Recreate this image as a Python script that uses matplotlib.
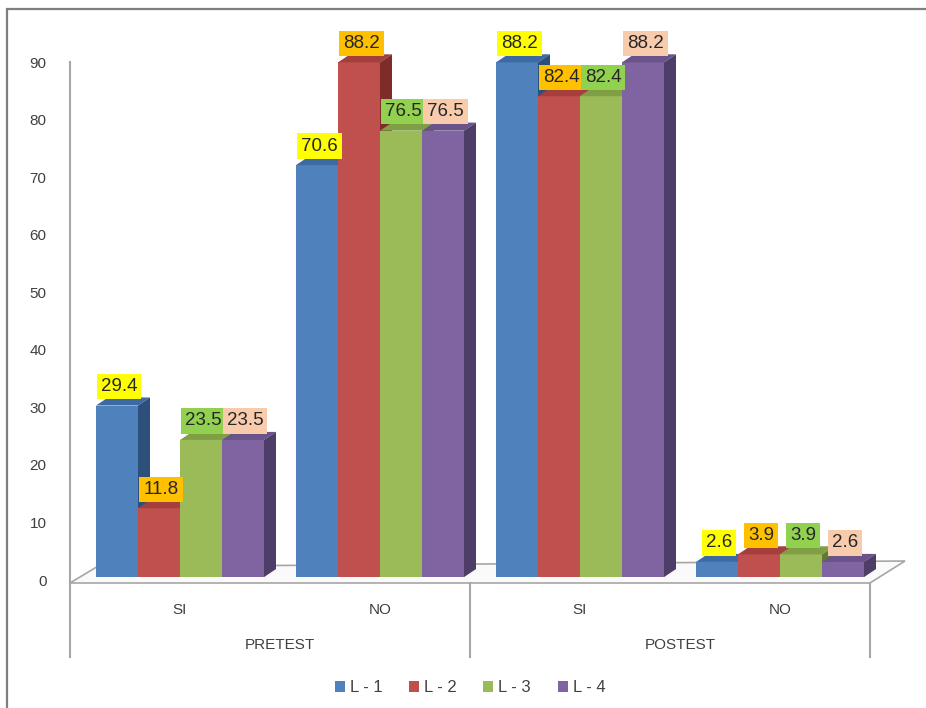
import matplotlib
matplotlib.use('Agg')
import matplotlib.pyplot as plt
from matplotlib.patches import Polygon, Rectangle, Patch

plt.rcParams['font.family'] = ['Liberation Sans', 'DejaVu Sans']

# data
categories = ['SI', 'NO', 'SI', 'NO']
groups = ['PRETEST', 'POSTEST']
series = ['L - 1', 'L - 2', 'L - 3', 'L - 4']
l1 = [29.4, 70.6, 88.2, 2.6]
l2 = [11.8, 88.2, 82.4, 3.9]
l3 = [23.5, 76.5, 82.4, 3.9]
l4 = [23.5, 76.5, 88.2, 2.6]
values = [l1, l2, l3, l4]

front = ['#4F81BD', '#C0504D', '#9BBB59', '#8064A2']
top = ['#3E6AA3', '#A53F3C', '#809F45', '#6A528A']
side = ['#2D4F7C', '#7E2C2A', '#627A33', '#4E3D66']
label_bg = ['#FFFF00', '#FFC000', '#92D050', '#F8CBAD']

W, H = 926, 708
fig = plt.figure(figsize=(W / 100, H / 100), dpi=100)
fig.patches.append(Rectangle((7 / W, -0.05), 1.1, 1 - 9 / H + 0.05,
                             transform=fig.transFigure, fill=False,
                             edgecolor='#7F7F7F', lw=1.6))

ax = fig.add_axes([70 / W, (H - 580) / H, 800 / W, 518 / H])
ax.set_xlim(-0.55, 3.45)
ax.set_ylim(0, 90)
for s in ax.spines.values():
    s.set_visible(False)
ax.set_xticks([])
ax.set_yticks(range(0, 91, 10))
ax.tick_params(axis='y', length=0, pad=17, labelsize=11, labelcolor='#404040')

gray = '#A6A6A6'
# floor
floor = Polygon([(-0.55, -0.52), (3.45, -0.52), (3.625, 3.3), (-0.415, 2.3)],
                closed=True, facecolor='#FAFAFA', edgecolor=gray, lw=1.2,
                clip_on=False, zorder=1)
ax.add_patch(floor)
# value axis line
ax.plot([-0.55, -0.55], [90, -0.52], color=gray, lw=1.5, clip_on=False, zorder=2)
# category separators
for xs in [-0.55, 1.45, 3.45]:
    ax.plot([xs, xs], [-0.52, -13.4], color=gray, lw=1.5, clip_on=False, zorder=2)

# front of the bars sits a bit in front of the back wall (perspective)
base = 0.5
k = 1.014
bw = 0.21
dx, dy = 0.06, 1.4
offs = [-1.5 * bw, -0.5 * bw, 0.5 * bw, 1.5 * bw]
z = 3
for g in range(len(categories)):
    for i in range(len(series)):
        v = values[i][g]
        h = base + v * k
        L = g + offs[i] - bw / 2
        R = L + bw
        ax.bar(g + offs[i], v * k, bottom=base, width=bw, color=front[i],
               clip_on=False, zorder=z)
        ax.add_patch(Polygon([(L, h), (R, h), (R + dx, h + dy), (L + dx, h + dy)],
                             closed=True, facecolor=top[i], edgecolor='none',
                             clip_on=False, zorder=z))
        ax.add_patch(Polygon([(R, base), (R, h), (R + dx, h + dy), (R + dx, base + dy)],
                             closed=True, facecolor=side[i], edgecolor='none',
                             clip_on=False, zorder=z))
        z += 1

# data labels
for g in range(len(categories)):
    for i in range(len(series)):
        v = values[i][g]
        h = base + v * k
        ax.text(g + offs[i] + 0.01, h + 3.3, f'{v:.1f}', ha='center', va='center',
                fontsize=13.5, color='#262626', zorder=100 + g * 4 + i,
                bbox=dict(boxstyle='square,pad=0.22', facecolor=label_bg[i],
                          edgecolor='none'))

# category labels
for g, c in enumerate(categories):
    ax.text(g, -5.2, c, ha='center', va='center', fontsize=11, color='#404040')
for n, name in enumerate(groups):
    ax.text(0.5 + 2 * n, -11.3, name, ha='center', va='center', fontsize=11,
            color='#404040')

handles = [Patch(facecolor=front[i], edgecolor='none', label=series[i])
           for i in range(len(series))]
fig.legend(handles=handles, loc='center', ncol=4, frameon=False,
           bbox_to_anchor=(470 / W, 1 - 688 / H), fontsize=12,
           handlelength=0.6, handleheight=0.6, handletextpad=0.3,
           columnspacing=1.6, labelcolor='#404040')

fig.savefig('out.png', dpi=100, facecolor='white')
